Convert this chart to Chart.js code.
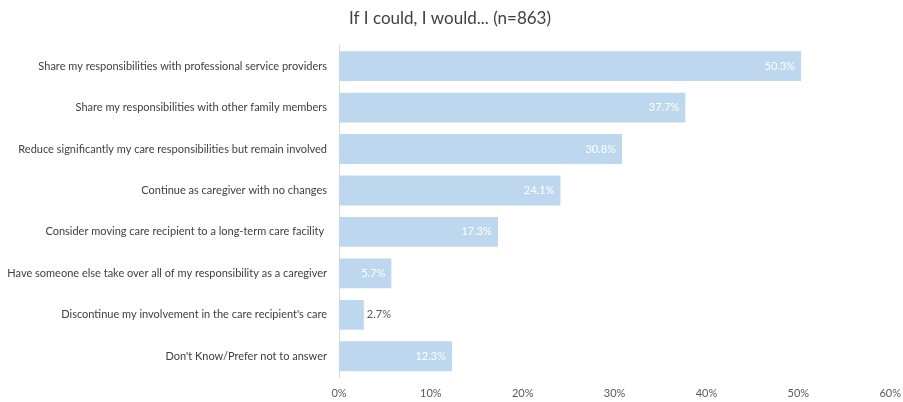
<!DOCTYPE html>
<html>
<head>
<meta charset="utf-8">
<script src="https://cdn.jsdelivr.net/npm/chart.js@4/dist/chart.umd.min.js"></script>
<style>
    html, body { margin: 0; padding: 0; background: #fff; }
    #wrap { width: 903px; height: 402px; }
</style>
</head>
<body>
<div id="wrap"><canvas id="careChart"></canvas></div>
<script>
// --------------------------------------------------------------------
// Data
// --------------------------------------------------------------------
const categories = [
    'Share my responsibilities with professional service providers',
    'Share my responsibilities with other family members',
    'Reduce significantly my care responsibilities but remain involved',
    'Continue as caregiver with no changes',
    'Consider moving care recipient to a long-term care facility ',
    'Have someone else take over all of my responsibility as a caregiver',
    "Discontinue my involvement in the care recipient's care",
    "Don't Know/Prefer not to answer"
];
const percentValues = [50.3, 37.7, 30.8, 24.1, 17.3, 5.7, 2.7, 12.3];
const xTickLabels = ['0%', '10%', '20%', '30%', '40%', '50%', '60%'];
const chartTitle = 'If I could, I would... (n=863)';

const fontFamily = "Lato, 'Open Sans', sans-serif";

// value labels at bar end (white inside, grey outside for small bars)
const barLabels = {
    id: 'barLabels',
    afterDatasetsDraw(chart) {
        const ctx = chart.ctx;
        const meta = chart.getDatasetMeta(0);
        ctx.save();
        ctx.font = '11px ' + fontFamily;
        ctx.textBaseline = 'middle';
        meta.data.forEach(function (bar, i) {
            const text = percentValues[i].toFixed(1) + '%';
            const w = ctx.measureText(text).width;
            const barLen = bar.x - bar.base;
            if (barLen > w + 10) {
                ctx.fillStyle = '#ffffff';
                ctx.textAlign = 'right';
                ctx.fillText(text, bar.x - 6, bar.y);
            } else {
                ctx.fillStyle = '#595959';
                ctx.textAlign = 'left';
                ctx.fillText(text, bar.x + 3, bar.y);
            }
        });
        ctx.restore();
    }
};

new Chart(document.getElementById('careChart'), {
    type: 'bar',
    data: {
        labels: categories,
        datasets: [{
            data: percentValues,
            backgroundColor: '#bdd7ee',
            borderWidth: 0,
            categoryPercentage: 1,
            barPercentage: 0.72
        }]
    },
    options: {
        indexAxis: 'y',
        responsive: true,
        maintainAspectRatio: false,
        animation: false,
        layout: { padding: { left: 0, right: 3, top: 0, bottom: 0 } },
        plugins: {
            legend: { display: false },
            tooltip: { enabled: false },
            title: {
                display: true,
                text: chartTitle,
                color: '#404040',
                font: { size: 17, family: fontFamily, weight: 'normal' },
                padding: { top: 8, bottom: 17 }
            }
        },
        scales: {
            x: {
                min: 0,
                max: 60,
                ticks: {
                    stepSize: 10,
                    color: '#595959',
                    font: { size: 11, family: fontFamily },
                    padding: 2,
                    callback: function (v, i) { return xTickLabels[i]; }
                },
                grid: { display: false },
                border: { display: false },
                afterFit: function (scale) { scale.height = 25; }
            },
            y: {
                ticks: {
                    color: '#404040',
                    font: { size: 11, family: fontFamily },
                    padding: 4,
                    autoSkip: false
                },
                grid: { display: false },
                border: { display: true, color: '#d9d9d9', width: 1 },
                afterFit: function (scale) { scale.width = 339; }
            }
        }
    },
    plugins: [barLabels]
});
</script>
</body>
</html>
